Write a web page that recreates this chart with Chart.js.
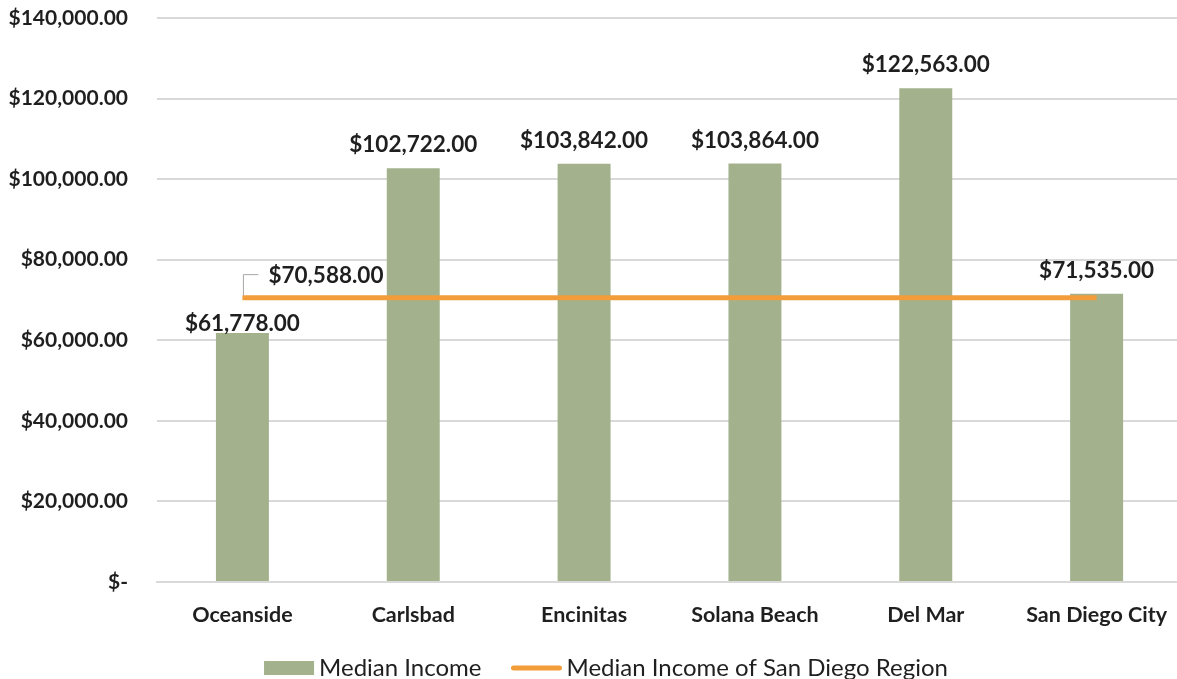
<!DOCTYPE html>
<html>
<head>
<meta charset="utf-8">
<script src="https://cdn.jsdelivr.net/npm/chart.js@4.4.1/dist/chart.umd.min.js"></script>
<style>
  html, body { margin: 0; padding: 0; background: #fff; overflow: hidden; }
  #wrap { width: 1187px; height: 679px; }
</style>
</head>
<body>
<div id="wrap"><canvas id="incomeChart"></canvas></div>
<script>
// data
var cities = ["Oceanside", "Carlsbad", "Encinitas", "Solana Beach", "Del Mar", "San Diego City"];
var medianIncome = [61778, 102722, 103842, 103864, 122563, 71535];
var regionMedian = [70588, 70588, 70588, 70588, 70588, 70588];
var yTicks = [0, 20000, 40000, 60000, 80000, 100000, 120000, 140000];

var FONT = "Lato, 'Open Sans', sans-serif";
var TEXT = "#1f1f1f";

function money(v) {
    if (v === 0) return "$-";
    return "$" + v.toLocaleString("en-US", { minimumFractionDigits: 2, maximumFractionDigits: 2 });
}

// value labels (bars above, line only at its first point with a leader)
var valueLabels = {
    id: "valueLabels",
    afterDatasetsDraw: function (chart) {
        var ctx = chart.ctx;
        ctx.save();
        ctx.font = "bold 22.5px " + FONT;
        ctx.fillStyle = TEXT;
        ctx.textAlign = "center";
        ctx.textBaseline = "middle";
        chart.getDatasetMeta(0).data.forEach(function (bar, i) {
            var lift = (i === 0) ? 9 : 23;
            ctx.fillText(money(medianIncome[i]), bar.x, bar.y - lift);
        });
        var p = chart.getDatasetMeta(1).data[0];
        ctx.strokeStyle = "#a6a6a6";
        ctx.lineWidth = 1;
        ctx.beginPath();
        ctx.moveTo(p.x + 1, p.y - 2);
        ctx.lineTo(p.x + 1, p.y - 23);
        ctx.lineTo(p.x + 16, p.y - 23);
        ctx.stroke();
        ctx.textAlign = "left";
        ctx.fillText(money(regionMedian[0]), p.x + 26, p.y - 22);
        ctx.restore();
    }
};

// legend drawn by hand so its spacing can follow the original
var bottomLegend = {
    id: "bottomLegend",
    afterDraw: function (chart) {
        var ctx = chart.ctx;
        var ds = chart.data.datasets;
        var y = 668, box = 50, gap = 5, spacing = 30;
        ctx.save();
        ctx.font = "24px " + FONT;
        ctx.fillStyle = TEXT;
        ctx.textBaseline = "middle";
        var w0 = ctx.measureText(ds[0].label).width;
        var w1 = ctx.measureText(ds[1].label).width;
        var total = box + gap + w0 + spacing + box + gap + w1;
        var x = 606 - total / 2;
        ctx.fillStyle = ds[0].backgroundColor;
        ctx.fillRect(x, y - 7, box, 14);
        ctx.fillStyle = TEXT;
        ctx.fillText(ds[0].label, x + box + gap, y);
        x += box + gap + w0 + spacing;
        ctx.strokeStyle = ds[1].borderColor;
        ctx.lineWidth = ds[1].borderWidth;
        ctx.lineCap = "round";
        ctx.beginPath();
        ctx.moveTo(x + 2, y);
        ctx.lineTo(x + box - 2, y);
        ctx.stroke();
        ctx.fillText(ds[1].label, x + box + gap, y);
        ctx.restore();
    }
};

var ctxI = document.getElementById("incomeChart").getContext('2d');
var incomeChart = new Chart(ctxI, {
    type: 'bar',
    data: {
        labels: cities,
        datasets: [{
            label: "Median Income",
            data: medianIncome,
            backgroundColor: "#a3b28c",
            borderWidth: 0,
            categoryPercentage: 1,
            barPercentage: 0.31,
            order: 2
        }, {
            type: 'line',
            label: "Median Income of San Diego Region",
            data: regionMedian,
            borderColor: "#f29d3a",
            backgroundColor: "#f29d3a",
            borderWidth: 5,
            pointRadius: 0,
            order: 1
        }]
    },
    options: {
        responsive: true,
        maintainAspectRatio: false,
        animation: false,
        layout: { padding: 0 },
        plugins: {
            tooltip: { enabled: false },
            legend: { display: false }
        },
        scales: {
            x: {
                afterFit: function (scale) { scale.height = 97; },
                grid: { display: false, drawTicks: false },
                border: { display: true, color: "#d9d9d9", width: 2 },
                ticks: {
                    color: TEXT,
                    padding: 20,
                    font: { family: FONT, size: 21.5, weight: 'bold' }
                }
            },
            y: {
                min: 0,
                max: 140000,
                afterFit: function (scale) {
                    scale.width = 157;
                    scale.paddingTop = 18;
                },
                afterBuildTicks: function (scale) {
                    scale.ticks = yTicks.map(function (v) { return { value: v }; });
                },
                grid: { color: "#d9d9d9", lineWidth: 2, drawTicks: false },
                border: { display: false },
                ticks: {
                    color: TEXT,
                    padding: 29,
                    font: { family: FONT, size: 21, weight: 'bold' },
                    callback: function (v) { return money(v); }
                }
            }
        }
    },
    plugins: [valueLabels, bottomLegend]
});
</script>
</body>
</html>
